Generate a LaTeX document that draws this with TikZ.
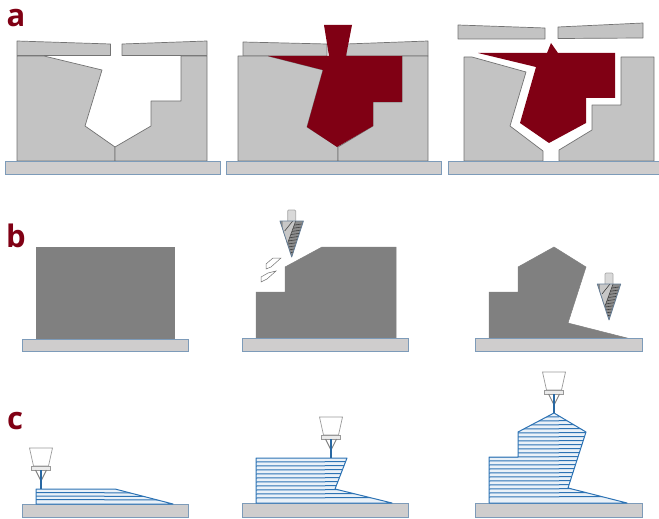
\documentclass[tikz,border=0pt]{standalone}
\usepackage{fontspec}
\setmainfont{Open Sans}
\usepackage{tikz}
\definecolor{PanelRed}{RGB}{128,0,20}
\definecolor{MoldGray}{RGB}{195,195,195}
\definecolor{BaseGray}{RGB}{207,205,205}
\definecolor{BaseEdge}{RGB}{125,155,185}
\definecolor{PartGray}{RGB}{128,128,128}
\definecolor{LayerBlue}{RGB}{45,115,180}
\tikzset{
  panellabel/.style={text=PanelRed, font=\fontsize{31}{31}\selectfont\bfseries, inner sep=0pt},
  basebar/.style={fill=BaseGray, draw=BaseEdge, line width=0.8pt},
  mold/.style={fill=MoldGray, draw=black!55, line width=0.7pt, line join=round},
  melt/.style={fill=PanelRed, draw=none},
  solidpart/.style={fill=PartGray, draw=black!50, line width=0.5pt},
  layerpart/.style={fill=LayerBlue!10, draw=LayerBlue, line width=1pt, line join=round},
  layerline/.style={draw=LayerBlue, line width=1pt},
  nozzle/.style={fill=white, draw=black!40, line width=0.7pt},
  chip/.style={fill=white, draw=black!55, line width=0.5pt},
}
% drill with its tip at (#1)
\newcommand{\drillbit}[1]{
  \begin{scope}[shift={(#1)}]
    \draw[fill=black!15, draw=black!35, rounded corners=1pt, line width=0.7pt] (-4,-36) -- (-4,-47) -- (4,-47) -- (4,-36);
    \fill[black!45] (-11.7,-36) -- (11.7,-36) -- (0,0) -- cycle;
    \begin{scope}
      \clip (-11.7,-36) -- (11.7,-36) -- (0,0) -- cycle;
      \fill[black!22] (-8,-36) -- (4,-36) -- (-4,-14) -- (-8,-18) -- cycle;
      \foreach \y in {-32,-29,-26,-23,-20,-17,-14,-11,-8,-5}
        \draw[black!75, line width=0.6pt] (-4,\y+1) -- (10,\y-1);
      \fill[black!22] (-9,-36) -- (4,-36) -- (-4,-14) -- (-9,-20) -- cycle;
      \draw[black!75, line width=0.6pt] (-7,-26) -- (1,-36);
      \draw[black!75, line width=0.6pt] (-4,-14) -- (4,-36);
    \end{scope}
    \draw[BaseEdge!80!black, line width=0.8pt, line join=round] (-11.7,-36) -- (11.7,-36) -- (0,0) -- cycle;
  \end{scope}
}
% nozzle with its blue jet ending at (#1)
\newcommand{\printhead}[1]{
  \begin{scope}[shift={(#1)}]
    \draw[nozzle] (-11.5,-41) -- (11.5,-41) -- (7.5,-23) -- (-7.5,-23) -- cycle;
    \draw[nozzle, fill=black!8] (-9.5,-23) rectangle (9.5,-19);
    \draw[black!50, line width=0.9pt] (-5.5,-19) -- (0,-8) -- (5.5,-19);
    \draw[LayerBlue!90!black, line width=1.8pt] (0,-19) -- (0,0);
  \end{scope}
}
\begin{document}
\begin{tikzpicture}[x=1pt, y=-1pt]
  \useasboundingbox (0,0) rectangle (659,519);
  \node[panellabel] (labela) at (16,18) {a};
  \node[panellabel] (labelb) at (16,236) {b};
  \node[panellabel] (labelc) at (15,421) {c};

  % row a, empty mold
  \draw[mold] (17,41) -- (110.5,44) -- (110.5,55.5) -- (17,55.5) -- cycle;
  \draw[mold] (122,55.5) -- (122,44) -- (207,41) -- (207,55.5) -- cycle;
  \draw[mold] (17,56) -- (44,56) -- (102,70) -- (85,126) -- (115,147) -- (115,161) -- (17,161) -- cycle;
  \draw[mold] (115,147) -- (151,126) -- (151,101) -- (181,101) -- (181,56) -- (207,56) -- (207,161) -- (115,161) -- cycle;
  \draw[basebar] (5,161) rectangle (220,174);

  % row a, filled mold
  \draw[mold] (243,42) -- (327,44) -- (327,56) -- (243,56) -- cycle;
  \draw[mold] (346,56) -- (346,44) -- (428,41) -- (428,56) -- cycle;
  \draw[mold] (238,56) -- (268,56) -- (323,70) -- (307,127) -- (338,147) -- (338,161) -- (238,161) -- cycle;
  \draw[mold] (338,147) -- (373,126) -- (373,102) -- (402,102) -- (402,56) -- (428,56) -- (428,161) -- (338,161) -- cycle;
  \fill[melt] (324,25) -- (352,25) -- (346,56) -- (402,56) -- (402,102) -- (373,102) -- (373,126) -- (337,147) -- (307,127) -- (323,70) -- (268,56) -- (329,56) -- cycle;
  \draw[basebar] (226.5,161) rectangle (441,174);

  % row a, opened mold
  \draw[mold] (458,25) -- (545,28) -- (545,39) -- (458,39) -- cycle;
  \draw[mold] (558,27) -- (643,23) -- (643,38) -- (558,38.5) -- cycle;
  \draw[mold] (464,57) -- (472,57) -- (526,72) -- (510,126) -- (543,151) -- (543,161) -- (464,161) -- cycle;
  \draw[mold] (559,150) -- (592,130) -- (592,105) -- (621,105) -- (621,57) -- (654,57) -- (654,161) -- (559,161) -- cycle;
  \fill[melt] (478,53) -- (547,53) -- (551,43) -- (558,53) -- (615,53) -- (615,98) -- (586,98) -- (586,123) -- (549,143) -- (520,123) -- (536,67) -- cycle;
  \draw[basebar] (448,161) rectangle (659,174);

  % row b, milling
  \draw[solidpart] (36,247) rectangle (174,339);
  \draw[basebar] (22,339) rectangle (188,351.5);

  \draw[solidpart] (256,338) -- (256,292) -- (285,292) -- (285,267) -- (322,247) -- (396,247) -- (396,338) -- cycle;
  \draw[basebar] (242,338) rectangle (408,351);
  \draw[chip] (273,258) -- (281,258) -- (271,267) -- (266,269) -- (266,264) -- cycle;
  \draw[chip] (268,273) -- (276,271) -- (267,279) -- (261,282) -- (261,277) -- cycle;
  \drillbit{291.7,257}

  \draw[solidpart] (489,338) -- (489,292) -- (518,292) -- (518,267) -- (554,247) -- (586,267) -- (568,323) -- (627,338) -- cycle;
  \draw[basebar] (475,338) rectangle (642,351);
  \drillbit{609,320}

  % row c, printing
  \draw[basebar] (22,504) rectangle (188,517);
  \draw[layerpart] (36,504) -- (36,489) -- (115,489) -- (173,504) -- cycle;
  \begin{scope}
    \clip (36,504) -- (36,489) -- (115,489) -- (173,504) -- cycle;
    \foreach \y in {492.5,496,499.5}
      \draw[layerline] (36,\y) -- (175,\y+0.5);
  \end{scope}
  \printhead{41,489}

  \draw[basebar] (242,503) rectangle (408,517);
  \draw[layerpart] (256,503) -- (256,458) -- (347,458) -- (335,489) -- (392,503) -- cycle;
  \begin{scope}
    \clip (256,503) -- (256,458) -- (347,458) -- (335,489) -- (392,503) -- cycle;
    \foreach \y in {462,466,470,474,478,482,486,490,494,498}
      \draw[layerline] (256,\y) -- (392,\y-0.5);
  \end{scope}
  \printhead{331,458}

  \draw[basebar] (475,503) rectangle (642,517);
  \draw[layerpart] (489,503) -- (489,457) -- (518,457) -- (518,432) -- (554,413) -- (586,432) -- (568,488) -- (627,503) -- cycle;
  \begin{scope}
    \clip (489,503) -- (489,457) -- (518,457) -- (518,432) -- (554,413) -- (586,432) -- (568,488) -- (627,503) -- cycle;
    \foreach \y in {417,421,425,429,433,437,441,445,449,453,457,461,465,469,473,477,481,485,489,493,497}
      \draw[layerline] (489,\y) -- (627,\y-0.5);
  \end{scope}
  \printhead{554,413}
\end{tikzpicture}
\end{document}
